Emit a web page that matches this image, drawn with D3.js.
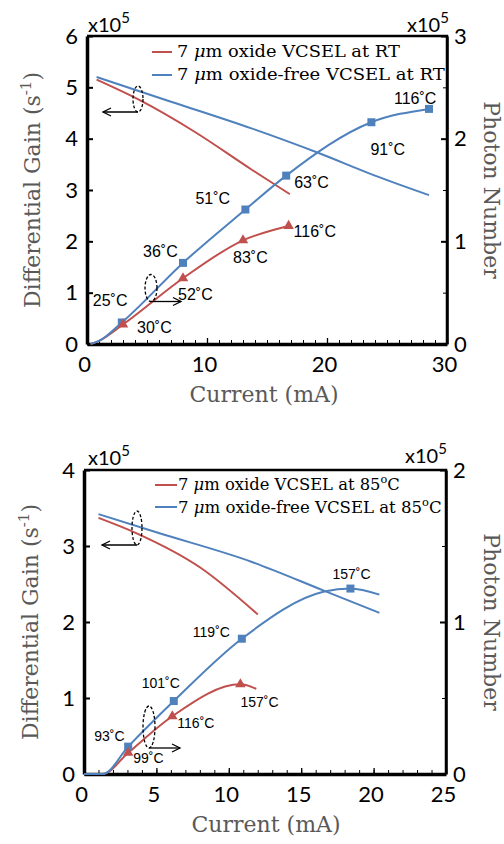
<!DOCTYPE html>
<html>
<head>
<meta charset="utf-8">
<script src="https://cdn.jsdelivr.net/npm/d3@7"></script>
<style>
  body { margin: 0; background: #fff; }
</style>
</head>
<body>
<svg id="fig" width="504" height="844"></svg>
<script>
// ---------- top panel: room temperature ----------
const rtCurrentTicks = [0, 10, 20, 30];
const rtGainTicks = [0, 1, 2, 3, 4, 5, 6];
const rtPhotonTicks = [0, 1, 2, 3];
const rtOxideGain = [[0.8, 5.15], [4.4, 4.75], [9, 4.13], [13.7, 3.40], [16.9, 2.92]];
const rtFreeGain = [[0.8, 5.2], [7, 4.72], [13.7, 4.2], [19.3, 3.72], [24, 3.28], [28.5, 2.9]];
const rtPhotonStart = [[0.3, 0], [1, 0.03]];
const rtOxidePhoton = [[3, 0.19], [8, 0.64], [13, 1.01], [16.8, 1.15]];
const rtFreePhoton = [[2.9, 0.21], [8, 0.79], [13.2, 1.31], [16.6, 1.64], [23.7, 2.16], [28.5, 2.29]];
const rtOxideTemps = ["30", "52", "83", "116"];
const rtFreeTemps = ["25", "36", "51", "63", "91", "116"];

// ---------- bottom panel: 85 C ----------
const htCurrentTicks = [0, 5, 10, 15, 20, 25];
const htGainTicks = [0, 1, 2, 3, 4];
const htPhotonTicks = [0, 1, 2];
const htOxideGain = [[1, 3.37], [3.6, 3.17], [8, 2.72], [12, 2.1]];
const htFreeGain = [[1, 3.42], [5, 3.18], [11.6, 2.79], [16.6, 2.41], [20.4, 2.12]];
const htPhotonStart = [[0, 0], [1.3, 0]];
const htOxidePhoton = [[3.05, 0.14], [6.1, 0.38], [10.8, 0.59]];
const htOxidePhotonEnd = [[11.9, 0.56]];
const htFreePhoton = [[3.05, 0.18], [6.2, 0.48], [10.9, 0.89], [18.4, 1.22]];
const htFreePhotonMid = [[16.6, 1.2]];
const htFreePhotonEnd = [[20.4, 1.18]];
const htOxideTemps = ["99", "116", "157"];
const htFreeTemps = ["93", "101", "119", "157"];

const RED = "#c0504d", BLUE = "#4f81bd";
const tickFont = "Lato, 'Open Sans', sans-serif";
const serif = "'DejaVu Serif', 'Liberation Serif', serif";

const svg = d3.select("#fig");

function drawPanel(p) {
  const x = d3.scaleLinear().domain(p.xDomain).range([p.left, p.right]);
  const yL = d3.scaleLinear().domain(p.gainDomain).range([p.bottom, p.top]);
  const yR = d3.scaleLinear().domain(p.photonDomain).range([p.bottom, p.top]);
  const g = svg.append("g");
  const fmt = d3.format("d");

  // frame (top + right)
  g.append("path")
    .attr("d", `M${p.left},${p.top}H${p.right}V${p.bottom}`)
    .attr("fill", "none").attr("stroke", "#000").attr("stroke-width", 2.5);

  // minor x ticks
  g.append("g")
    .attr("transform", `translate(0,${p.bottom})`)
    .call(d3.axisBottom(x).tickValues(d3.range(p.xDomain[0], p.xDomain[1] + 0.01, 1))
      .tickSizeInner(-4).tickSizeOuter(0).tickFormat(""))
    .call(a => a.select(".domain").remove())
    .selectAll("line").attr("stroke-width", 1);

  // bottom axis
  const xa = g.append("g")
    .attr("transform", `translate(0,${p.bottom})`)
    .call(d3.axisBottom(x).tickValues(p.xTicks).tickFormat(fmt).tickSizeInner(-6).tickSizeOuter(0));
  xa.select(".domain").attr("stroke-width", 3.5);
  xa.selectAll("line").attr("stroke-width", 1.3);
  xa.selectAll("text").attr("y", 28).attr("dy", null).attr("dx", -3)
    .style("font-family", tickFont).style("font-size", "22px").attr("fill", "#000");

  // left axis
  const la = g.append("g")
    .attr("transform", `translate(${p.left},0)`)
    .call(d3.axisLeft(yL).tickValues(p.gainTicks).tickFormat(fmt).tickSizeInner(-6).tickSizeOuter(0).tickPadding(9));
  la.select(".domain").attr("stroke-width", 3.5);
  la.selectAll("line").attr("stroke-width", 2);
  la.selectAll("text").style("font-family", tickFont).style("font-size", "22px").attr("fill", "#000");

  // right axis, with half-unit minor ticks
  g.append("g")
    .attr("transform", `translate(${p.right},0)`)
    .call(d3.axisRight(yR).tickValues(d3.range(0.5, p.photonDomain[1], 1))
      .tickSizeInner(-4).tickSizeOuter(0).tickFormat(""))
    .call(a => a.select(".domain").remove())
    .selectAll("line").attr("stroke-width", 1);
  const ra = g.append("g")
    .attr("transform", `translate(${p.right},0)`)
    .call(d3.axisRight(yR).tickValues(p.photonTicks).tickFormat(fmt).tickSizeInner(-6).tickSizeOuter(0).tickPadding(7));
  ra.select(".domain").attr("stroke-width", 2.5);
  ra.selectAll("line").attr("stroke-width", 2);
  ra.selectAll("text").style("font-family", tickFont).style("font-size", "22px").attr("fill", "#000");

  // x10^5 multipliers
  p.mult.forEach(m => {
    const t = g.append("text").attr("x", m[0]).attr("y", m[1])
      .style("font-family", tickFont).style("font-size", "20px");
    t.append("tspan").text("x10");
    t.append("tspan").attr("dy", -9).style("font-size", "15px").text("5");
  });

  // axis titles
  const gt = g.append("text")
    .attr("transform", `translate(${p.gainTitleX},${(p.top + p.bottom) / 2}) rotate(-90)`)
    .attr("text-anchor", "middle").attr("fill", "#595959")
    .style("font-family", serif).style("font-size", "22px");
  gt.append("tspan").text("Differential Gain (s");
  gt.append("tspan").attr("dy", -9).style("font-size", "15px").text("-1");
  gt.append("tspan").attr("dy", 9).text(")");

  g.append("text")
    .attr("transform", `translate(${p.photonTitleX},${(p.top + p.bottom) / 2}) rotate(90)`)
    .attr("text-anchor", "middle").attr("fill", "#595959")
    .style("font-family", serif).style("font-size", "22px")
    .text("Photon Number");

  g.append("text")
    .attr("x", p.currentTitle[0]).attr("y", p.currentTitle[1])
    .attr("text-anchor", "middle").attr("fill", "#595959")
    .style("font-family", serif).style("font-size", "22px")
    .text("Current (mA)");

  // curves
  const gainLine = d3.line().x(d => x(d[0])).y(d => yL(d[1])).curve(d3.curveMonotoneX);
  const photonLine = d3.line().x(d => x(d[0])).y(d => yR(d[1])).curve(d3.curveMonotoneX);
  [[p.oxideGain, RED], [p.freeGain, BLUE]].forEach(([d, c]) =>
    g.append("path").attr("d", gainLine(d)).attr("fill", "none").attr("stroke", c).attr("stroke-width", 2));
  [[p.oxidePhotonCurve, RED], [p.freePhotonCurve, BLUE]].forEach(([d, c]) =>
    g.append("path").attr("d", photonLine(d)).attr("fill", "none").attr("stroke", c).attr("stroke-width", 2));

  // markers
  g.selectAll(null).data(p.freePhoton).enter().append("rect")
    .attr("x", d => x(d[0]) - 4).attr("y", d => yR(d[1]) - 4)
    .attr("width", 8).attr("height", 8).attr("fill", BLUE);
  g.selectAll(null).data(p.oxidePhoton).enter().append("path")
    .attr("d", d3.symbol(d3.symbolTriangle, 48))
    .attr("transform", d => `translate(${x(d[0])},${yR(d[1])})`)
    .attr("fill", RED);

  // temperature labels
  const addLabels = (pts, temps, offs) => pts.forEach((d, i) => {
    g.append("text")
      .attr("x", x(d[0]) + offs[i][0]).attr("y", yR(d[1]) + offs[i][1])
      .style("font-family", "'Liberation Sans', Arial, sans-serif")
      .style("font-size", p.labelSize + "px")
      .text(temps[i] + "\u02DAC");
  });
  addLabels(p.freePhoton, p.freeTemps, p.freeOffs);
  addLabels(p.oxidePhoton, p.oxideTemps, p.oxideOffs);

  // legend
  p.legend.forEach(r => {
    g.append("line").attr("x1", r.x1).attr("x2", r.x2).attr("y1", r.y).attr("y2", r.y)
      .attr("stroke", r.color).attr("stroke-width", 2);
    const t = g.append("text").attr("x", r.tx).attr("y", r.ty)
      .style("font-family", serif).style("font-size", "16px");
    t.append("tspan").text("7 ");
    t.append("tspan").style("font-style", "italic").text("\u03BC");
    t.append("tspan").text("m " + r.label);
    if (r.sup) {
      t.append("tspan").attr("dy", -7).style("font-size", "11px").text("o");
      t.append("tspan").attr("dy", 7).text("C");
    }
    const w = t.node().getComputedTextLength();
    t.attr("transform", `translate(${r.tx},0) scale(${r.w / w},1) translate(${-r.tx},0)`);
  });

  // dashed ellipses with arrows
  const defsId = "arr" + p.id;
  svg.append("defs").append("marker").attr("id", defsId)
    .attr("viewBox", "-10 -6 12 12").attr("refX", 0).attr("refY", 0)
    .attr("markerWidth", 12).attr("markerHeight", 12).attr("orient", "auto")
    .attr("markerUnits", "userSpaceOnUse")
    .append("path").attr("d", "M-8,-4L0,0L-8,4").attr("fill", "none").attr("stroke", "#000").attr("stroke-width", 1.3);
  p.callouts.forEach(c => {
    g.append("ellipse").attr("cx", c.cx).attr("cy", c.cy).attr("rx", c.rx).attr("ry", c.ry)
      .attr("fill", "none").attr("stroke", "#000").attr("stroke-width", 1.3).attr("stroke-dasharray", "3,2");
    g.append("line").attr("x1", c.cx).attr("y1", c.cy + c.ry).attr("x2", c.ax).attr("y2", c.cy + c.ry)
      .attr("stroke", "#000").attr("stroke-width", 1.3).attr("marker-end", `url(#${defsId})`);
  });
}

drawPanel({
  id: "rt",
  left: 87, right: 447, top: 36, bottom: 344,
  xDomain: [0, 30], gainDomain: [0, 6], photonDomain: [0, 3],
  xTicks: rtCurrentTicks, gainTicks: rtGainTicks, photonTicks: rtPhotonTicks,
  oxideGain: rtOxideGain, freeGain: rtFreeGain,
  oxidePhoton: rtOxidePhoton, freePhoton: rtFreePhoton,
  oxidePhotonCurve: rtPhotonStart.concat(rtOxidePhoton),
  freePhotonCurve: rtPhotonStart.concat(rtFreePhoton),
  oxideTemps: rtOxideTemps, freeTemps: rtFreeTemps,
  labelSize: 16,
  freeOffs: [[-29, -16], [-40, -6], [-50, -6], [8, 12], [-1, 33], [-35, -5]],
  oxideOffs: [[14, 9], [-5, 22], [-10, 23], [5, 11]],
  mult: [[88, 32], [407, 32]],
  gainTitleX: 40, photonTitleX: 484, currentTitle: [264, 402],
  legend: [
    { x1: 152, x2: 172, y: 52, tx: 177, ty: 57, w: 223, color: RED, label: "oxide VCSEL at RT" },
    { x1: 152, x2: 172, y: 75, tx: 177, ty: 80, w: 268, color: BLUE, label: "oxide-free VCSEL at RT" }
  ],
  callouts: [
    { cx: 138, cy: 99, rx: 5, ry: 13, ax: 103 },
    { cx: 151, cy: 288, rx: 6, ry: 13.5, ax: 181 }
  ]
});

drawPanel({
  id: "ht",
  left: 84, right: 446, top: 470, bottom: 774,
  xDomain: [0, 25], gainDomain: [0, 4], photonDomain: [0, 2],
  xTicks: htCurrentTicks, gainTicks: htGainTicks, photonTicks: htPhotonTicks,
  oxideGain: htOxideGain, freeGain: htFreeGain,
  oxidePhoton: htOxidePhoton, freePhoton: htFreePhoton,
  oxidePhotonCurve: htPhotonStart.concat(htOxidePhoton, htOxidePhotonEnd),
  freePhotonCurve: htPhotonStart.concat(htFreePhoton.slice(0, 3), htFreePhotonMid, htFreePhoton.slice(3), htFreePhotonEnd),
  oxideTemps: htOxideTemps, freeTemps: htFreeTemps,
  labelSize: 14,
  freeOffs: [[-34, -6], [-32, -13], [-49, -2], [-18, -10]],
  oxideOffs: [[5, 10], [5, 12], [0, 23]],
  mult: [[88, 465], [405, 463]],
  gainTitleX: 38, photonTitleX: 484, currentTitle: [266, 832],
  legend: [
    { x1: 155, x2: 177, y: 485, tx: 178, ty: 490, w: 222, color: RED, label: "oxide VCSEL at 85", sup: true },
    { x1: 155, x2: 177, y: 507, tx: 178, ty: 513, w: 264, color: BLUE, label: "oxide-free VCSEL at 85", sup: true }
  ],
  callouts: [
    { cx: 137, cy: 528, rx: 5, ry: 17, ax: 102 },
    { cx: 149, cy: 727, rx: 6, ry: 21, ax: 180 }
  ]
});
</script>
</body>
</html>
